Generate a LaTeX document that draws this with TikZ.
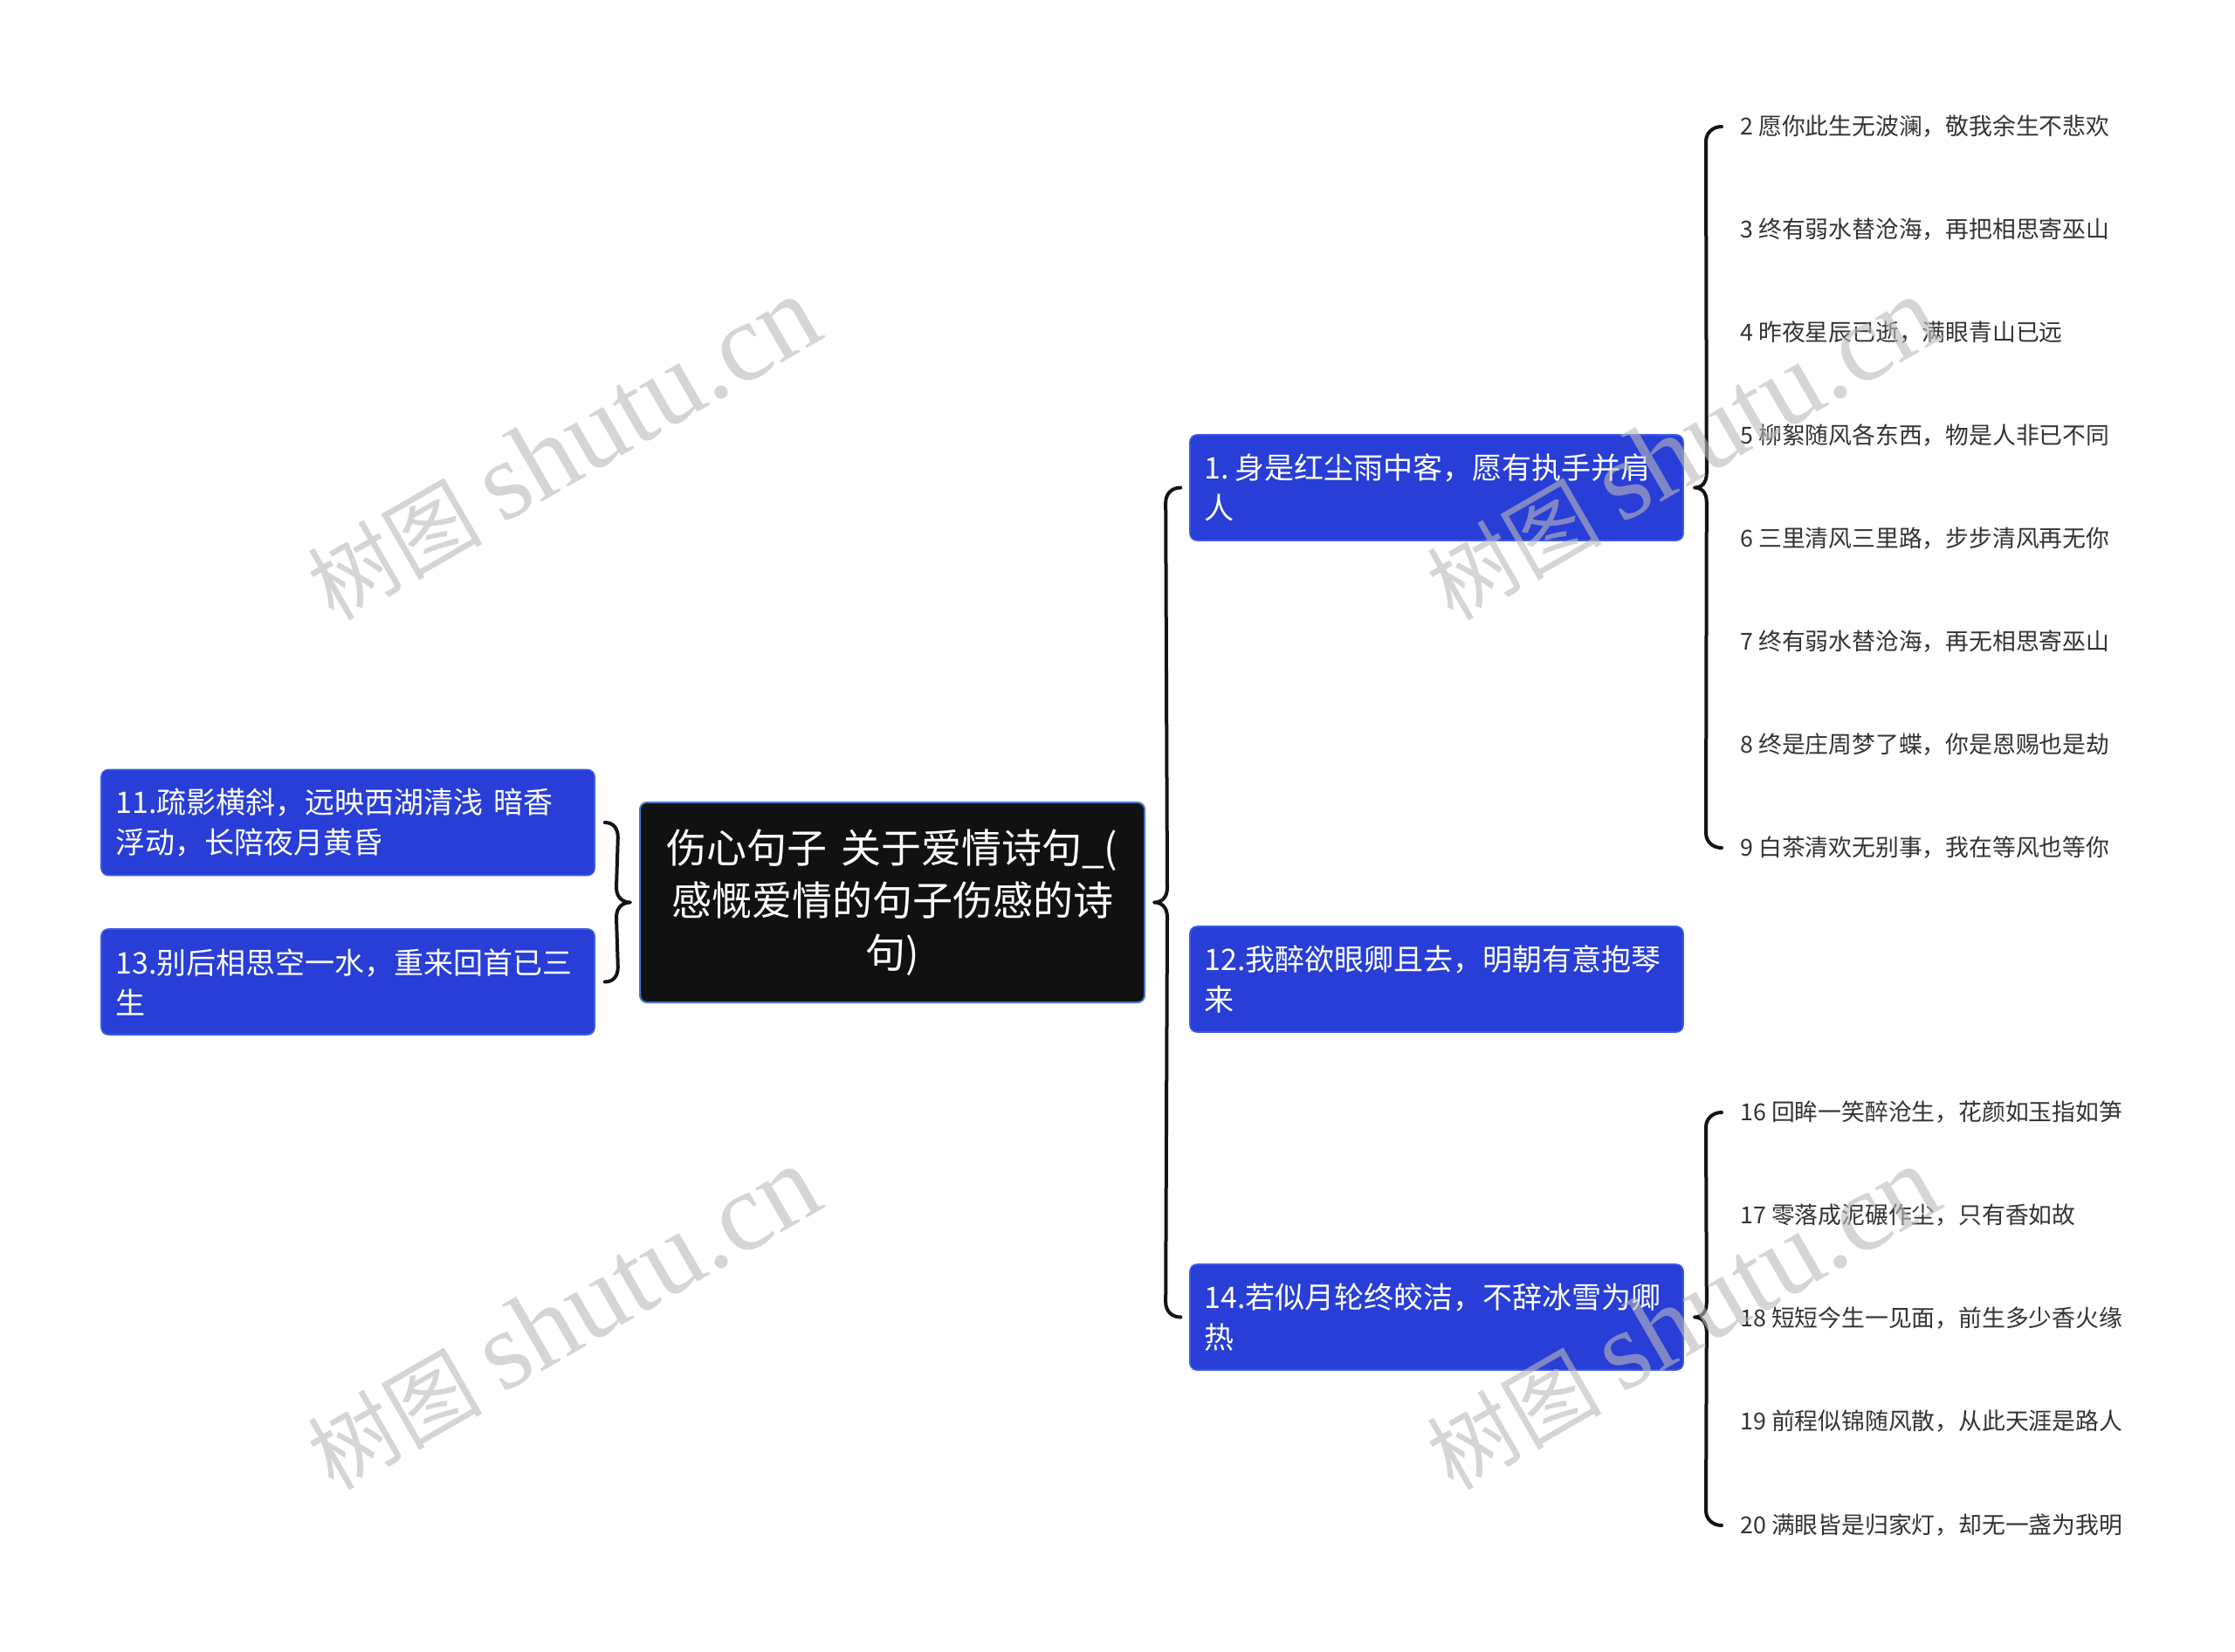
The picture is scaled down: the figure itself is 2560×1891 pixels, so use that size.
\documentclass[tikz,border=0pt]{standalone}
\usepackage{fontspec}
\setmainfont{Noto Sans CJK SC}
\newfontfamily\wmserif{Liberation Serif}
\usetikzlibrary{calc}
\definecolor{nodeblue}{RGB}{40,62,214}
\definecolor{nodeborder}{RGB}{62,92,228}
\definecolor{centerfill}{RGB}{17,17,17}
\definecolor{centerborder}{RGB}{72,118,205}
\definecolor{leaftext}{RGB}{51,51,51}
\definecolor{wm}{RGB}{185,185,185}
\begin{document}
\begin{tikzpicture}[x=0.5pt,y=-0.5pt,
  bluebox/.style={draw=nodeborder, line width=0.8pt, fill=nodeblue, rounded corners=4pt,
    minimum width=282.5pt, minimum height=60.5pt, text width=266pt, inner xsep=8.25pt,
    inner ysep=0pt, align=left, text=white, font=\fontsize{17}{23}\selectfont},
  centerbox/.style={draw=centerborder, line width=1pt, fill=centerfill, rounded corners=4pt,
    minimum width=289pt, minimum height=114.5pt, text width=270pt, inner xsep=9.5pt,
    inner ysep=0pt, align=center, text=white, font=\fontsize{23}{30}\selectfont},
  leaf/.style={anchor=west, inner sep=0pt, text=leaftext, font=\fontsize{13.4}{16}\selectfont},
  br/.style={draw=black!92, line width=2pt, line cap=round, line join=round},
  wmark/.style={text=wm, opacity=0.6, rotate=30, inner sep=0pt, font=\fontsize{50}{60}\selectfont}
]
\fill[white] (0,0) rectangle (2560,1891);
\useasboundingbox (0,0) rectangle (2560,1891);

% center
\node[centerbox] (c) at (1022,1033.5) {伤心句子 关于爱情诗句\_(\\感慨爱情的句子伤感的诗\\句)};

% left
\node[bluebox] (n11) at (398.5,942) {11.疏影横斜，远映西湖清浅 暗香\\浮动，长陪夜月黄昏};
\node[bluebox] (n13) at (398.5,1124.5) {13.别后相思空一水，重来回首已三\\生};

% right
\node[bluebox] (n1) at (1645.5,558.5) {1.\hspace{3.5pt}身是红尘雨中客，愿有执手并肩\\人};
\node[bluebox] (n12) at (1645.5,1121.5) {12.我醉欲眼卿且去，明朝有意抱琴\\来};
\node[bluebox] (n14) at (1645.5,1508.5) {14.若似月轮终皎洁，不辞冰雪为卿\\热};

% leaves group 1
\node[leaf] (l2) at (1993,145) {2 愿你此生无波澜，敬我余生不悲欢};
\node[leaf] (l3) at (1993,263) {3 终有弱水替沧海，再把相思寄巫山};
\node[leaf] (l4) at (1993,381) {4 昨夜星辰已逝，满眼青山已远};
\node[leaf] (l5) at (1993,499) {5 柳絮随风各东西，物是人非已不同};
\node[leaf] (l6) at (1993,617) {6 三里清风三里路，步步清风再无你};
\node[leaf] (l7) at (1993,735) {7 终有弱水替沧海，再无相思寄巫山};
\node[leaf] (l8) at (1993,853) {8 终是庄周梦了蝶，你是恩赐也是劫};
\node[leaf] (l9) at (1993,971) {9 白茶清欢无别事，我在等风也等你};

% leaves group 2
\node[leaf] (l16) at (1993,1274) {16 回眸一笑醉沧生，花颜如玉指如笋};
\node[leaf] (l17) at (1993,1392) {17 零落成泥碾作尘，只有香如故};
\node[leaf] (l18) at (1993,1510) {18 短短今生一见面，前生多少香火缘};
\node[leaf] (l19) at (1993,1628) {19 前程似锦随风散，从此天涯是路人};
\node[leaf] (l20) at (1993,1747) {20 满眼皆是归家灯，却无一盏为我明};

% brace: center -> right nodes
\coordinate (Tr) at ($(c.east)+(10,0)$);
\coordinate (Ar) at ($(n1.west)+(-10,0)$);
\coordinate (Br) at ($(n14.west)+(-10,0)$);
\draw[br] (Ar) .. controls +(-10,0) and +(0,-10) .. ($(Ar)+(-17,17)$)
  -- ($(Tr)+(15,-17)$) .. controls +(0,12) and +(8,0) .. (Tr)
  .. controls +(8,0) and +(0,-12) .. ($(Tr)+(15,17)$)
  -- ($(Br)+(-17,-17)$) .. controls +(0,10) and +(-10,0) .. (Br);

% brace: center -> left nodes
\coordinate (Tl) at ($(c.west)+(-10,0)$);
\coordinate (Al) at ($(n11.east)+(11,0)$);
\coordinate (Bl) at ($(n13.east)+(11,0)$);
\draw[br] (Al) .. controls +(10,0) and +(0,-10) .. ($(Al)+(15,17)$)
  -- ($(Tl)+(-16,-17)$) .. controls +(0,12) and +(-8,0) .. (Tl)
  .. controls +(-8,0) and +(0,-12) .. ($(Tl)+(-16,17)$)
  -- ($(Bl)+(15,-17)$) .. controls +(0,10) and +(10,0) .. (Bl);

% brace: n1 -> leaves
\coordinate (T1) at ($(n1.east)+(12,0)$);
\coordinate (A1) at ($(l2.west)+(-21,0)$);
\coordinate (B1) at ($(l9.west)+(-21,0)$);
\draw[br] (A1) .. controls +(-10,0) and +(0,-10) .. ($(A1)+(-18,17)$)
  -- ($(T1)+(14,-17)$) .. controls +(0,12) and +(8,0) .. (T1)
  .. controls +(8,0) and +(0,-12) .. ($(T1)+(14,17)$)
  -- ($(B1)+(-18,-17)$) .. controls +(0,10) and +(-10,0) .. (B1);

% brace: n14 -> leaves
\coordinate (T2) at ($(n14.east)+(12,0)$);
\coordinate (A2) at ($(l16.west)+(-21,0)$);
\coordinate (B2) at ($(l20.west)+(-21,0)$);
\draw[br] (A2) .. controls +(-10,0) and +(0,-10) .. ($(A2)+(-18,17)$)
  -- ($(T2)+(14,-17)$) .. controls +(0,12) and +(8,0) .. (T2)
  .. controls +(8,0) and +(0,-12) .. ($(T2)+(14,17)$)
  -- ($(B2)+(-18,-17)$) .. controls +(0,10) and +(-10,0) .. (B2);

% watermarks
\node[wmark] (w1) at (645,514) {树图 {\wmserif\fontsize{64}{66}\selectfont shutu.cn}};
\node[wmark] (w2) at (1927,514) {树图 {\wmserif\fontsize{64}{66}\selectfont shutu.cn}};
\node[wmark] (w3) at (645,1510) {树图 {\wmserif\fontsize{64}{66}\selectfont shutu.cn}};
\node[wmark] (w4) at (1927,1510) {树图 {\wmserif\fontsize{64}{66}\selectfont shutu.cn}};
\end{tikzpicture}
\end{document}
